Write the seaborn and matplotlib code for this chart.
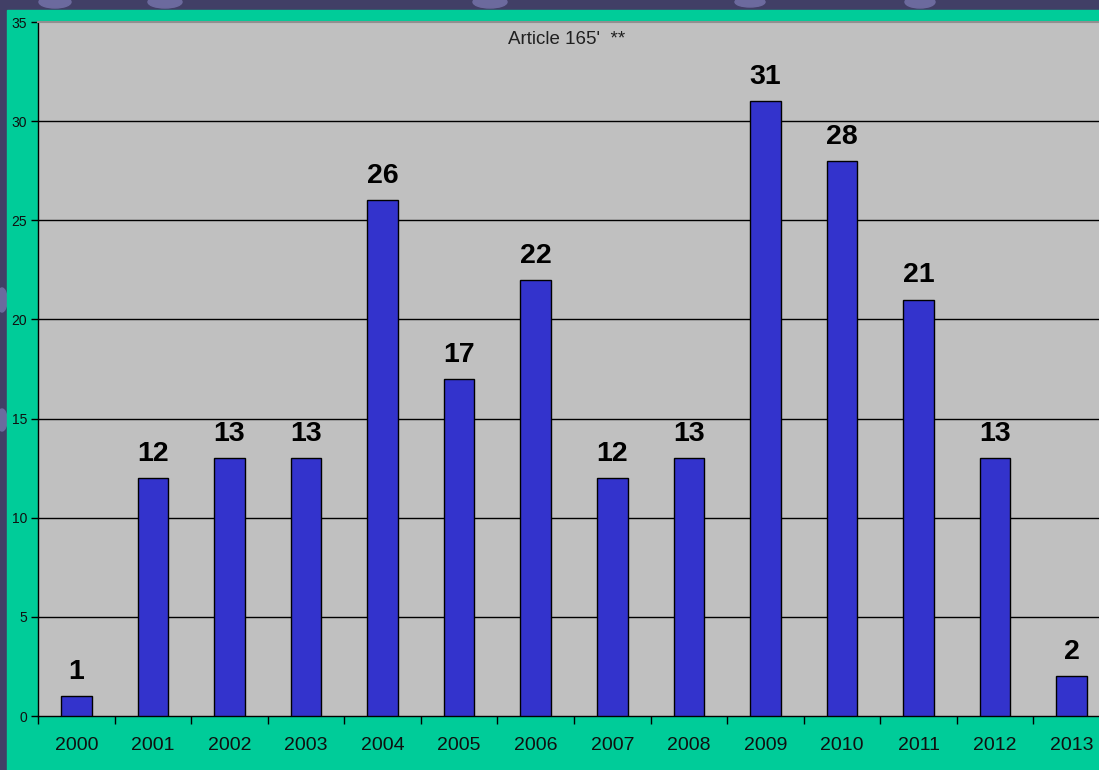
import seaborn as sns
import pandas as pd
import numpy as np
import matplotlib.pyplot as plt
from matplotlib.patches import Rectangle, Ellipse
from matplotlib.ticker import FixedLocator

years = ['2000', '2001', '2002', '2003', '2004', '2005', '2006',
         '2007', '2008', '2009', '2010', '2011', '2012', '2013']
counts = [1, 12, 13, 13, 26, 17, 22, 12, 13, 31, 28, 21, 13, 2]
title = "Article 165'  **"

df = pd.DataFrame({'year': years, 'count': counts})

sns.set_style('white')
plt.rcParams['font.family'] = ['Liberation Sans', 'DejaVu Sans']

W, H = 1099, 770
fig = plt.figure(figsize=(W / 100, H / 100), dpi=100, facecolor='#413f66')

# slide background bits
for cx, cy, w, h in [(55, 2, 32, 12), (165, 2, 34, 12), (490, 2, 34, 12), (750, 2, 30, 10),
                     (920, 2, 30, 12), (2, 300, 10, 24), (2, 420, 10, 22)]:
    fig.patches.append(Ellipse((cx / W, 1 - cy / H), w / W, h / H, transform=fig.transFigure,
                               color='#6c6a9e', zorder=-3))
fig.patches.append(Rectangle((7 / W, 0), 1, 1 - 10 / H, transform=fig.transFigure,
                             color='#00cc99', zorder=-2))

left, right = 38 / W, 1110 / W
bottom, top = (H - 716) / H, (H - 22) / H
ax = fig.add_axes([left, bottom, right - left, top - bottom])
ax.set_facecolor('#c0c0c0')

sns.barplot(data=df, x='year', y='count', color='#3333cc', saturation=1,
            edgecolor='black', linewidth=1, width=0.4, ax=ax, zorder=3)

for i, v in enumerate(counts):
    ax.annotate(str(v), (i, v), xytext=(0, 8), textcoords='offset points',
                ha='center', va='bottom', fontsize=20.5, fontweight='bold', color='black')

ax.set_xlim(-0.5, len(years) - 0.5)
ax.set_ylim(0, 35)
ax.set_yticks(np.arange(0, 36, 5))
ax.set_xlabel('')
ax.set_ylabel('')

for y in range(5, 35, 5):
    ax.axhline(y, color='black', linewidth=1, zorder=1)

ax.xaxis.set_minor_locator(FixedLocator(np.arange(-0.5, len(years), 1)))
ax.tick_params(axis='x', which='major', length=0, pad=15, labelsize=14, colors='#101010')
ax.tick_params(axis='x', which='minor', length=6, width=1, direction='out', color='black')
ax.tick_params(axis='y', length=5, width=1, direction='out', pad=3, labelsize=10,
               color='black', labelcolor='#101010')
ax.xaxis.set_ticks_position('bottom')
ax.yaxis.set_ticks_position('left')

for side in ['left', 'bottom']:
    ax.spines[side].set_color('black')
    ax.spines[side].set_linewidth(1)
ax.spines['top'].set_color('#909090')
ax.spines['top'].set_linewidth(1.5)
ax.spines['right'].set_visible(False)

ax.text(567 / W, 1 - 40 / H, title, transform=fig.transFigure, ha='center', va='center',
        fontsize=13.5, color='#202020')

fig.savefig('out.png', dpi=100, facecolor=fig.get_facecolor())
